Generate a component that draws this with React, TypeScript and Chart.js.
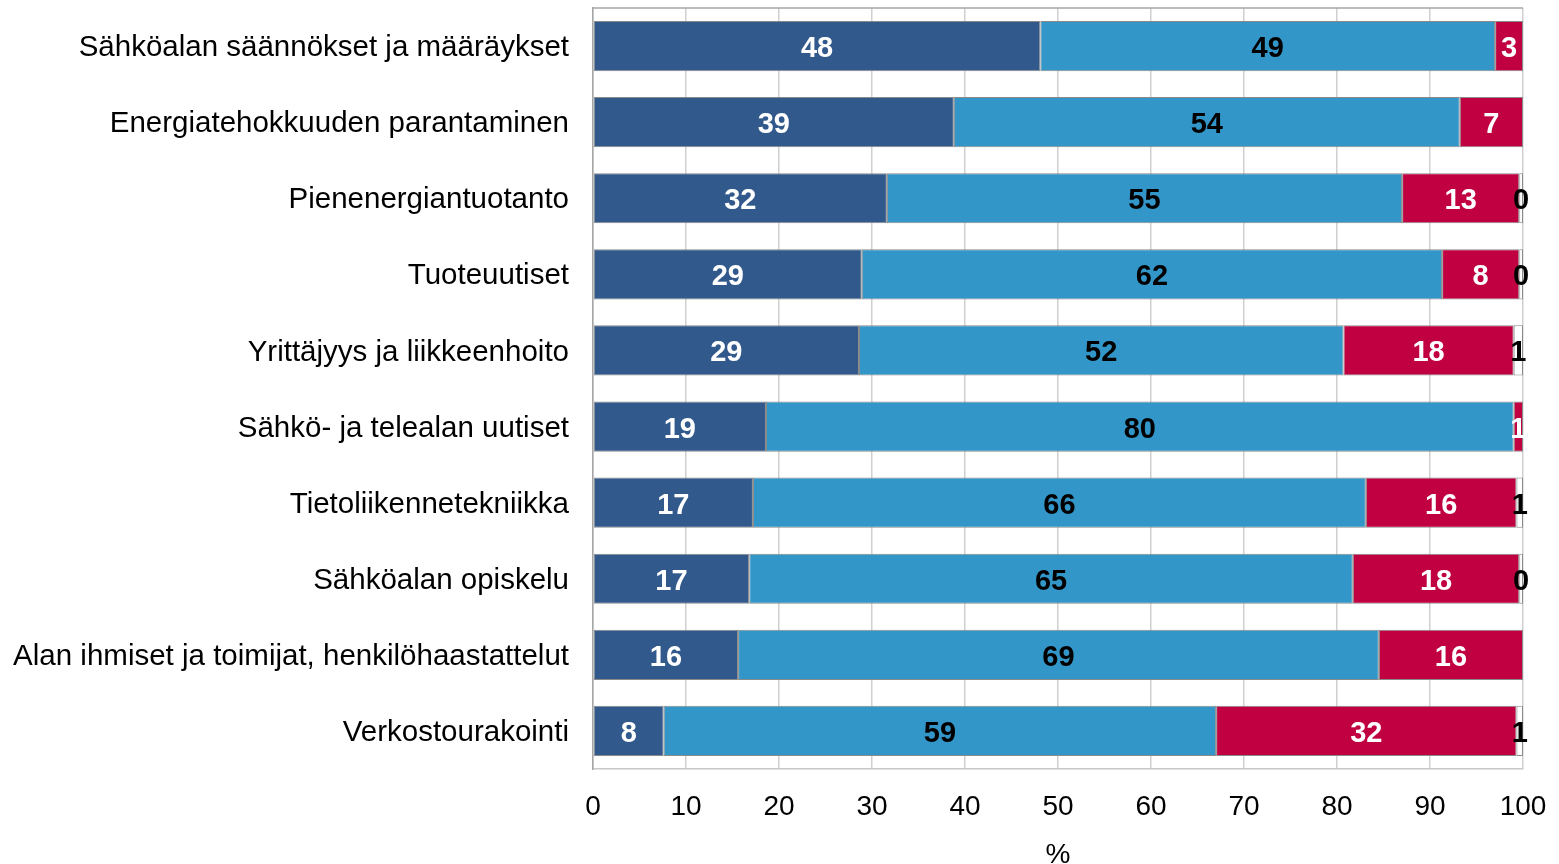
import React, { useEffect, useRef } from "react";
import { Chart, registerables } from "chart.js";

Chart.register(...registerables);

const categories = [
  "Sähköalan säännökset ja määräykset",
  "Energiatehokkuuden parantaminen",
  "Pienenergiantuotanto",
  "Tuoteuutiset",
  "Yrittäjyys ja liikkeenhoito",
  "Sähkö- ja telealan uutiset",
  "Tietoliikennetekniikka",
  "Sähköalan opiskelu",
  "Alan ihmiset ja toimijat, henkilöhaastattelut",
  "Verkostourakointi",
];

const seriesNames = ["Paljon", "Jonkin verran", "Ei lainkaan", "Ei vastausta"];
const seriesA = [48.1, 38.8, 31.6, 28.9, 28.6, 18.6, 17.2, 16.8, 15.6, 7.6];
const seriesB = [48.9, 54.4, 55.4, 62.4, 52.1, 80.4, 65.9, 64.9, 68.9, 59.4];
const seriesC = [3.0, 6.8, 12.6, 8.3, 18.3, 1.0, 16.2, 17.9, 15.5, 32.3];
const seriesD = [0, 0, 0.4, 0.4, 1.0, 0, 0.7, 0.4, 0, 0.7];

const xTicks = [0, 10, 20, 30, 40, 50, 60, 70, 80, 90, 100];
const axisTitle = "%";

const fillColors = ["#31598C", "#3396C8", "#C00040", "#FFFFFF"];
const labelColors = ["#FFFFFF", "#000000", "#FFFFFF", "#000000"];

const FONT = '"Liberation Sans", Arial, sans-serif';

const barLabels = {
  id: "barLabels",
  afterDatasetsDraw(chart: any) {
    const ctx = chart.ctx;
    ctx.save();
    ctx.font = `bold 29px ${FONT}`;
    ctx.textAlign = "center";
    ctx.textBaseline = "middle";
    chart.data.datasets.forEach((ds: any, i: number) => {
      const meta = chart.getDatasetMeta(i);
      meta.data.forEach((el: any, j: number) => {
        const v = ds.data[j];
        if (!v) return;
        const { x, y, base } = el.getProps(["x", "y", "base"], true);
        ctx.fillStyle = labelColors[i];
        ctx.fillText(String(Math.round(v)), (x + base) / 2, y + 3);
      });
    });
    ctx.restore();
  },
};

const topBorder = {
  id: "topBorder",
  beforeDatasetsDraw(chart: any) {
    const { ctx, chartArea } = chart;
    ctx.save();
    ctx.strokeStyle = "#A6A6A6";
    ctx.lineWidth = 1.5;
    ctx.beginPath();
    ctx.moveTo(chartArea.left, chartArea.top);
    ctx.lineTo(chartArea.right, chartArea.top);
    ctx.stroke();
    ctx.restore();
  },
};

export default function App() {
  const ref = useRef<HTMLCanvasElement | null>(null);

  useEffect(() => {
    if (!ref.current) return;
    Chart.defaults.font.family = FONT;
    const data = [seriesA, seriesB, seriesC, seriesD];
    const chart = new Chart(ref.current, {
      type: "bar",
      data: {
        labels: categories,
        datasets: data.map((d, i) => ({
          label: seriesNames[i],
          data: d,
          backgroundColor: fillColors[i],
          borderColor: "#8A8A8A",
          borderWidth: 1,
          borderSkipped: false,
          barPercentage: 0.66,
          categoryPercentage: 1,
        })),
      },
      options: {
        indexAxis: "y",
        responsive: false,
        animation: false,
        layout: { padding: { top: 8, right: 36, left: 0, bottom: 0 } },
        plugins: {
          legend: { display: false },
          tooltip: { enabled: false },
        },
        scales: {
          x: {
            stacked: true,
            min: 0,
            max: 100,
            afterBuildTicks: (scale: any) => {
              scale.ticks = xTicks.map((v) => ({ value: v }));
            },
            ticks: {
              font: { size: 28 },
              color: "#000",
              padding: 21,
              maxRotation: 0,
            },
            grid: { color: "#D0D0D0", lineWidth: 1.5, drawTicks: false },
            border: { display: true, color: "#C8C8C8", width: 1.5 },
            title: {
              display: true,
              text: axisTitle,
              font: { size: 28, lineHeight: 0.65 },
              color: "#000",
              padding: 0,
            },
            afterFit: (scale: any) => {
              scale.height = 95;
              scale.paddingLeft = 0;
              scale.paddingRight = 0;
            },
          },
          y: {
            stacked: true,
            ticks: {
              font: { size: 29.5 },
              color: "#000",
              padding: 24,
              labelOffset: 2,
            },
            grid: { display: false, drawTicks: false },
            border: { display: true, color: "#A6A6A6", width: 1.5 },
            afterFit: (scale: any) => {
              scale.width = 593;
              scale.paddingTop = 0;
              scale.paddingBottom = 0;
            },
          },
        },
      },
      plugins: [barLabels, topBorder],
    });
    return () => chart.destroy();
  }, []);

  return (
    <div style={{ position: "absolute", left: 0, top: 0, width: 1559, height: 864 }}>
      <canvas ref={ref} width={1559} height={864} />
    </div>
  );
}
